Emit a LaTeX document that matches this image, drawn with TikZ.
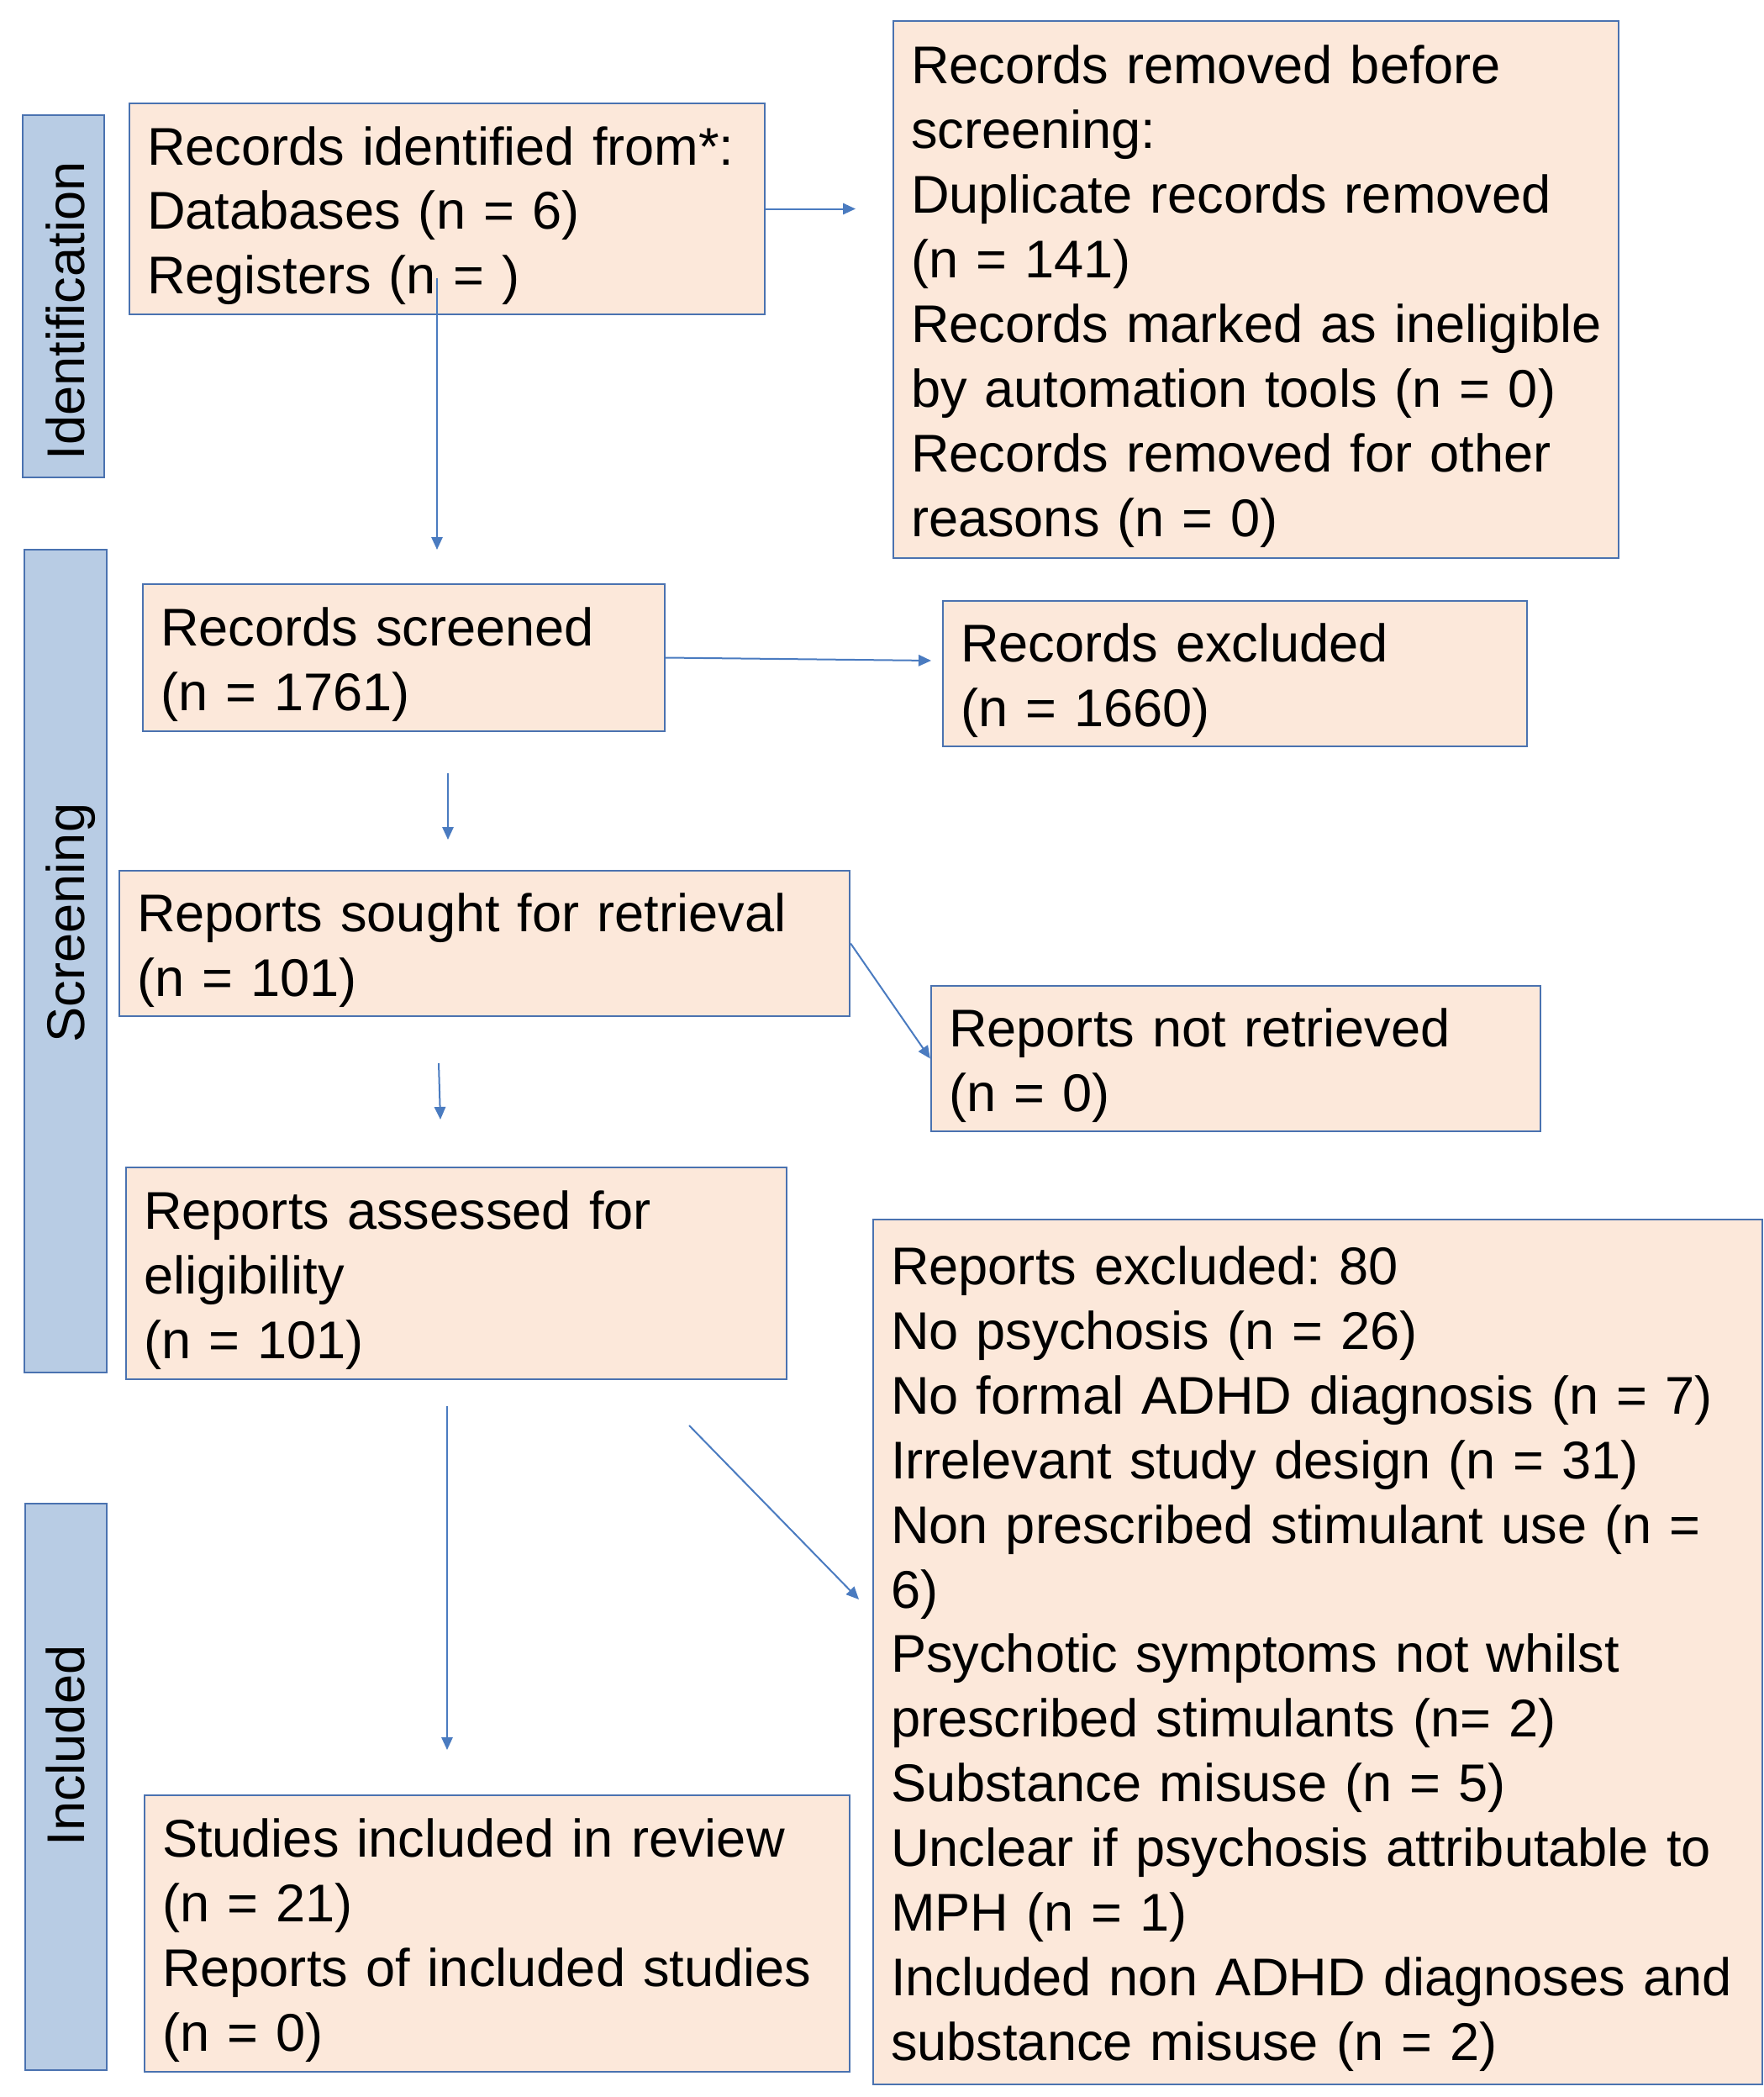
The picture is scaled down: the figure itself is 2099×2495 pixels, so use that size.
\documentclass[tikz,border=0pt]{standalone}
\usepackage{fontspec}
\setmainfont{Liberation Sans}
\usetikzlibrary{arrows.meta}
\definecolor{peach}{HTML}{FCE8DA}
\definecolor{bdr}{HTML}{4A72B0}
\definecolor{barfill}{HTML}{B8CCE4}
\definecolor{arr}{HTML}{4A7BC0}
\newcommand{\boxfont}{\fontsize{18.95pt}{23.07pt}\selectfont\frenchspacing\hyphenpenalty=10000\exhyphenpenalty=10000}
\tikzset{
  box/.style={draw=bdr, fill=peach, line width=0.7pt, rectangle, inner sep=0pt, align=left, font=\boxfont,
    execute at begin node={\rule{0pt}{18.6pt}}},
  sidebar/.style={draw=bdr, fill=barfill, line width=0.7pt, rectangle, inner sep=0pt},
  sidelabel/.style={rotate=90, anchor=base, inner sep=0pt, font=\boxfont},
  conn/.style={draw=arr, line width=0.6pt, -{Triangle[length=4.5pt,width=4pt]}}
}
\begin{document}
\begin{tikzpicture}[x=0.3pt, y={(0,-0.3pt)}]
\useasboundingbox (0,0) rectangle (2099,2495);
% side bars
\node[sidebar, minimum width=29.1pt, minimum height=129.3pt] (barid) at (75.5,352.5) {};
\node[sidebar, minimum width=29.4pt, minimum height=293.7pt] (barsc) at (78,1143.5) {};
\node[sidebar, minimum width=29.1pt, minimum height=202.2pt] (barin) at (78.5,2126) {};
\node[sidelabel] (labid) at (100,370) {Identification};
\node[sidelabel] (labsc) at (101,1098) {Screening};
\node[sidelabel] (labin) at (101,2077) {Included};
% boxes
\node[box, minimum width=226.8pt, minimum height=75.3pt, text width=214.2pt] (ri) at (532,248.5)
  {Records identified from*:\\Databases (n = 6)\\Registers (n = )};
\node[box, minimum width=258.9pt, minimum height=191.7pt, text width=246.3pt] (rr) at (1494.5,344.5)
  {Records removed before\\screening:\\Duplicate records removed\\(n = 141)\\\mbox{Records marked as ineligible}\\\mbox{by automation tools (n = 0)}\\Records removed for other\\reasons (n = 0)};
\node[box, minimum width=186.3pt, minimum height=52.5pt, text width=173.7pt] (rs) at (480.5,782.5)
  {Records screened\\(n = 1761)};
\node[box, minimum width=208.5pt, minimum height=51.9pt, text width=195.9pt] (rx) at (1469.5,801.5)
  {Records excluded\\(n = 1660)};
\node[box, minimum width=260.7pt, minimum height=51.9pt, text width=248.1pt] (rsr) at (576.5,1122.5)
  {\mbox{Reports sought for retrieval}\\(n = 101)};
\node[box, minimum width=217.5pt, minimum height=51.9pt, text width=204.9pt] (rnr) at (1470.5,1259.5)
  {Reports not retrieved\\(n = 0)};
\node[box, minimum width=235.8pt, minimum height=75.6pt, text width=223.2pt] (ra) at (543,1515)
  {Reports assessed for\\eligibility\\(n = 101)};
\node[box, minimum width=317.4pt, minimum height=308.7pt, text width=304.8pt] (rex) at (1568,1965.5)
  {Reports excluded: 80\\No psychosis (n = 26)\\\mbox{No formal ADHD diagnosis (n = 7)}\\Irrelevant study design (n = 31)\\\mbox{Non prescribed stimulant use (n =}\\6)\\Psychotic symptoms not whilst\\prescribed stimulants (n= 2)\\Substance misuse (n = 5)\\\mbox{Unclear if psychosis attributable to}\\MPH (n = 1)\\\mbox{Included non ADHD diagnoses and}\\substance misuse (n = 2)};
\node[box, minimum width=251.7pt, minimum height=98.7pt, text width=239.1pt] (si) at (591.5,2300.5)
  {\mbox{Studies included in review}\\(n = 21)\\\mbox{Reports of included studies}\\(n = 0)};
% free ends
\coordinate (a1e) at (1018,248.5);
\coordinate (a2s) at (520,331);
\coordinate (a2e) at (520,654);
\coordinate (a3e) at (1108,786);
\coordinate (a4s) at (533,920);
\coordinate (a4e) at (533,999);
\coordinate (a6s) at (522,1265);
\coordinate (a6e) at (524,1332);
\coordinate (a7s) at (532,1673);
\coordinate (a7e) at (532,2082);
\coordinate (a8s) at (820,1696);
\coordinate (a8e) at (1022,1903);
% connectors
\draw[conn] (ri.east) -- (a1e);
\draw[conn] (a2s) -- (a2e);
\draw[conn] (rs.east) -- (a3e);
\draw[conn] (a4s) -- (a4e);
\draw[conn] (rsr.east) -- (rnr.west);
\draw[conn] (a6s) -- (a6e);
\draw[conn] (a7s) -- (a7e);
\draw[conn] (a8s) -- (a8e);
\end{tikzpicture}
\end{document}
